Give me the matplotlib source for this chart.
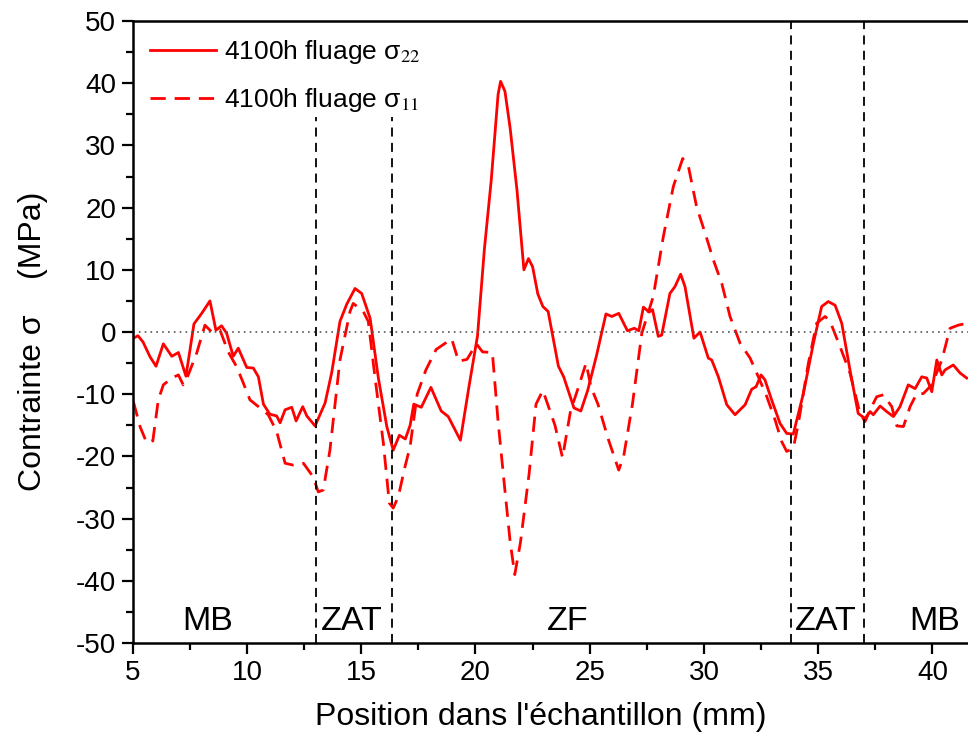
# -*- coding:utf-8 -*-
import matplotlib
matplotlib.use('Agg')
import matplotlib.pyplot as plt
from matplotlib.ticker import MultipleLocator

# sigma 22 (trait plein)
x22 = [5.03, 5.23, 5.45, 5.76, 6.02, 6.34, 6.71, 7.0, 7.33, 7.68, 8.02, 8.38, 8.64, 8.89,
       9.11, 9.4, 9.62, 9.99, 10.28, 10.5, 10.72, 11.0, 11.3, 11.45, 11.67, 11.96, 12.15,
       12.44, 12.62, 12.98, 13.42, 13.71, 14.07, 14.37, 14.73, 15.02, 15.39, 15.75, 16.12,
       16.4, 16.67, 16.93, 17.14, 17.3, 17.63, 18.05, 18.5, 18.81, 19.34, 19.71, 20.09,
       20.39, 20.69, 20.99, 21.1, 21.29, 21.52, 21.82, 22.12, 22.32, 22.5, 22.73, 22.95,
       23.18, 23.63, 23.86, 24.31, 24.61, 24.91, 25.29, 25.71, 25.97, 26.27, 26.65, 26.95,
       27.15, 27.35, 27.6, 27.75, 28.0, 28.15, 28.51, 28.73, 28.98, 29.17, 29.56, 29.83,
       30.19, 30.34, 30.63, 31.0, 31.36, 31.8, 32.09, 32.28, 32.5, 32.67, 32.96, 33.33,
       33.62, 33.91, 34.35, 34.79, 35.15, 35.44, 35.74, 36.03, 36.39, 36.75, 37.05, 37.27,
       37.41, 37.71, 38.0, 38.29, 38.58, 38.94, 39.24, 39.53, 39.75, 39.97, 40.19, 40.41,
       40.55, 40.91, 41.21, 41.5]
s22 = [-1.0, -0.6, -1.6, -4.0, -5.5, -1.9, -3.9, -3.3, -7.1, 1.3, 3.0, 5.0, 0.3, 1.0,
       -0.2, -3.9, -2.6, -5.7, -5.8, -7.2, -11.6, -13.2, -13.5, -14.6, -12.5, -12.1, -14.3,
       -12.0, -13.5, -15.1, -11.4, -6.5, 1.7, 4.5, 7.0, 6.2, 2.2, -7.4, -15.2,
       -19.0, -16.6, -17.2, -15.0, -11.6, -12.1, -8.9, -12.7, -13.6, -17.4, -8.9, -0.6,
       13.3, 24.4, 38.2, 40.3, 38.7, 32.7, 22.7, 10.0, 11.8, 10.5, 6.1, 4.1,
       3.3, -5.5, -7.2, -12.2, -12.7, -9.4, -3.9, 2.9, 2.5, 3.0, 0.2, 0.6,
       0.2, 4.0, 3.2, 3.6, -0.7, -0.5, 6.2, 7.3, 9.3, 7.3, -1.0, 0.0,
       -4.2, -4.5, -7.2, -11.7, -13.3, -11.7, -9.2, -8.8, -6.9, -7.7, -10.9, -14.7,
       -16.3, -16.4, -9.9, -1.8, 4.1, 4.9, 4.3, 1.4, -6.1, -13.1, -13.9, -12.8,
       -13.3, -11.9, -12.8, -13.6, -12.0, -8.5, -9.1, -7.2, -7.4, -9.6, -4.5, -6.9,
       -6.1, -5.3, -6.6, -7.4]

# sigma 11 (pointilles)
x11 = [5.03, 5.32, 5.61, 5.88, 6.12, 6.34, 6.71, 7.0, 7.21, 7.43, 7.8, 8.16, 8.46, 8.82,
       9.18, 9.55, 9.84, 10.13, 10.5, 10.93, 11.3, 11.67, 12.03, 12.47, 12.9, 13.12, 13.34,
       13.63, 14.07, 14.51, 14.65, 15.09, 15.31, 15.6, 15.97, 16.23, 16.4, 16.62, 16.92,
       17.14, 17.45, 17.83, 18.28, 18.96, 19.26, 19.63, 20.04, 20.31, 20.74, 20.99, 21.29,
       21.52, 21.72, 21.97, 22.35, 22.65, 22.95, 23.48, 23.81, 24.16, 24.46, 24.84, 25.06,
       25.36, 25.81, 26.27, 26.49, 26.87, 27.28, 27.78, 28.22, 28.66, 29.07, 29.32, 29.68,
       30.05, 30.41, 30.78, 31.14, 31.58, 32.02, 32.38, 32.75, 33.11, 33.4, 33.62, 33.91,
       34.13, 34.57, 34.93, 35.3, 35.52, 35.96, 36.39, 36.83, 37.05, 37.27, 37.56, 37.85,
       38.22, 38.44, 38.73, 39.02, 39.31, 39.6, 39.97, 40.41, 40.77, 41.13, 41.5]
s11 = [-11.2, -15.2, -17.8, -17.5, -10.9, -8.5, -7.4, -6.9, -8.5, -6.9, -3.4, 1.1, 0.0, 0.3,
       -3.2, -5.6, -8.2, -10.9, -12.0, -13.3, -16.0, -21.1, -21.4, -21.1, -23.3, -25.7, -25.4,
       -19.0, -4.5, 3.3, 4.6, 3.3, 1.7, -7.2, -17.9, -27.5, -28.3, -26.5, -21.6,
       -18.4, -10.0, -6.1, -2.8, -1.1, -4.7, -4.4, -1.9, -3.2, -3.3, -14.4, -25.5,
       -33.8, -39.0, -33.8, -22.7, -11.6, -9.4, -15.0, -20.2, -12.7, -9.4, -5.0, -8.9,
       -11.6, -17.2, -22.2, -19.9, -11.6, -0.2, 5.7, 15.3, 23.4, 27.9, 26.6, 20.1,
       15.9, 11.6, 7.8, 2.5, -1.8, -4.2, -7.2, -10.4, -14.1, -17.6, -19.2, -18.7,
       -14.7, -5.0, 1.4, 2.5, 1.7, -2.4, -6.6, -13.1, -14.4, -12.5, -10.4, -10.1,
       -12.0, -15.1, -15.2, -12.0, -9.9, -9.9, -8.5, -4.5, 0.6, 1.1, 1.4]

# limites des zones et noms
limites = [13.0, 16.35, 33.8, 37.0]
zones = ['MB', 'ZAT', 'ZF', 'ZAT', 'MB']
zones_x = [8.3, 14.6, 24.05, 35.35, 40.1]

plt.rcParams['font.family'] = ['Liberation Sans', 'DejaVu Sans']
plt.rcParams['mathtext.fontset'] = 'stix'
plt.rcParams['axes.unicode_minus'] = False

fig = plt.figure(figsize=(9.68, 7.45), dpi=100)
ax = fig.add_axes([0.1371, 0.1369, 0.8734, 0.8349])

ax.plot(x22, s22, color='red', lw=2.0, label='4100h fluage σ$_{\\mathrm{22}}$')
ax.plot(x11, s11, color='red', lw=2.0, ls=(0, (5.5, 3.2)), label='4100h fluage σ$_{\\mathrm{11}}$')

ax.axhline(0, color='#555555', lw=1.2, ls=(0, (1, 2.5)))
for i, xl in enumerate(limites):
    if i < 2:
        ax.axvline(xl, ymax=0.845, color='black', lw=1.3, ls=(0, (5, 3.5)))
    else:
        ax.axvline(xl, color='black', lw=1.3, ls=(0, (5, 3.5)))

for nom, xz in zip(zones, zones_x):
    ax.text(xz, -46.6, nom, fontsize=24.5, ha='center', va='center')

ax.set_xlim(5, 42)
ax.set_ylim(-50, 50)
ax.xaxis.set_major_locator(MultipleLocator(5))
ax.xaxis.set_minor_locator(MultipleLocator(2.5))
ax.yaxis.set_major_locator(MultipleLocator(10))
ax.yaxis.set_minor_locator(MultipleLocator(5))
ax.tick_params(which='major', direction='out', length=8, width=1.6, labelsize=20, pad=4)
ax.tick_params(which='minor', direction='out', length=5, width=1.6)
for sp in ax.spines.values():
    sp.set_linewidth(1.8)
ax.spines['right'].set_visible(False)

ax.set_xlabel("Position dans l'échantillon (mm)", fontsize=23)
ax.xaxis.set_label_coords(0.483, -0.095)
ax.set_ylabel('Contrainte σ    (MPa)', fontsize=23)
ax.yaxis.set_label_coords(-0.1, 0.485)

ax.legend(loc='upper left', bbox_to_anchor=(0.0, 1.0), frameon=False, fontsize=19,
          handlelength=2.5, handletextpad=0.3, labelspacing=0.75, borderaxespad=0.25)

plt.savefig('out.png', dpi=100)
